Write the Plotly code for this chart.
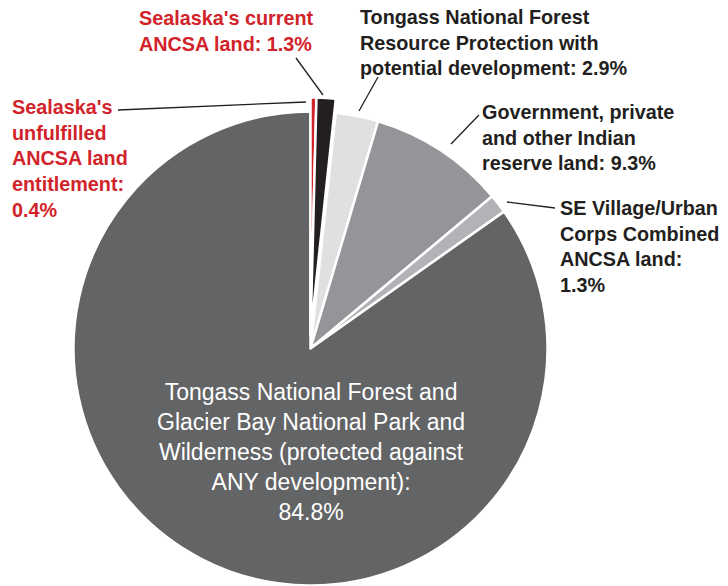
import plotly.graph_objects as go

W, H = 728, 586

# ---- data ----
categories = [
    "Sealaska's unfulfilled ANCSA land entitlement",
    "Sealaska's current ANCSA land",
    "Tongass National Forest Resource Protection with potential development",
    "Government, private and other Indian reserve land",
    "SE Village/Urban Corps Combined ANCSA land",
    "Tongass National Forest and Glacier Bay National Park and Wilderness (protected against ANY development)",
]
values = [0.4, 1.3, 2.9, 9.3, 1.3, 84.8]
slice_colors = ["#d2232a", "#231f20", "#dfe0e2", "#939598", "#b1b3b6", "#636466"]
pulled = [True, True, False, False, False, False]

label_text = [
    "Sealaska's<br>unfulfilled<br>ANCSA land<br>entitlement:<br>0.4%",
    "Sealaska's current<br>ANCSA land: 1.3%",
    "Tongass National Forest<br>Resource Protection with<br>potential development: 2.9%",
    "Government, private<br>and other Indian<br>reserve land: 9.3%",
    "SE Village/Urban<br>Corps Combined<br>ANCSA land:<br>1.3%",
    "Tongass National Forest and<br>Glacier Bay National Park and<br>Wilderness (protected against<br>ANY development):<br>84.8%",
]
label_colors = ["#d2232a", "#d2232a", "#231f20", "#231f20", "#231f20", "#ffffff"]


def px(x):
    return x / W


def py(y):
    return 1 - y / H


# pie geometry (pixels)
cx, cy, r = 310.5, 348.5, 237.0
shift = 14.0

dom_x = [px(cx - r), px(cx + r)]
dom_y = [py(cy + r), py(cy - r)]
dom_y2 = [py(cy + r - shift), py(cy - r - shift)]

base_colors = ["#ffffff" if p else c for p, c in zip(pulled, slice_colors)]
top_colors = [c if p else "rgba(0,0,0,0)" for p, c in zip(pulled, slice_colors)]
top_lw = [2.5 if p else 0 for p in pulled]

fig = go.Figure()
fig.add_trace(go.Pie(
    labels=categories, values=values, sort=False, direction="clockwise",
    rotation=0, domain=dict(x=dom_x, y=dom_y),
    marker=dict(colors=base_colors, line=dict(color="#ffffff", width=2.5)),
    textinfo="none", hoverinfo="label+value", showlegend=False,
))
fig.add_trace(go.Pie(
    labels=categories, values=values, sort=False, direction="clockwise",
    rotation=0, domain=dict(x=dom_x, y=dom_y2),
    marker=dict(colors=top_colors, line=dict(color="#ffffff", width=top_lw)),
    textinfo="none", hoverinfo="skip", showlegend=False,
))

# label positions (pixels): left x, center y of block
label_pos = [(10, 159), (137, 31), (358, 43), (480, 137), (558, 247), (311, 452)]
leaders = [
    ((118, 110), (306, 102)),
    ((296, 58), (323, 95)),
    ((378, 77), (359, 111)),
    ((479, 115), (451, 144)),
    ((507, 202), (555, 208)),
    None,
]

annotations = []
shapes = []
for i, txt in enumerate(label_text):
    lx, ly = label_pos[i]
    main = i == len(label_text) - 1
    annotations.append(dict(
        text=txt, x=px(lx), y=py(ly), xref="paper", yref="paper",
        xanchor="center" if main else "left", yanchor="middle",
        align="center" if main else "left", showarrow=False,
        font=dict(family="Arial, Liberation Sans, sans-serif",
                  size=23 if main else 19.8, color=label_colors[i],
                  weight=400 if main else 700),
    ))
    if leaders[i]:
        (x0, y0), (x1, y1) = leaders[i]
        shapes.append(dict(type="line", xref="paper", yref="paper",
                           x0=px(x0), y0=py(y0), x1=px(x1), y1=py(y1),
                           line=dict(color="#231f20", width=1.3)))

fig.update_layout(
    width=W, height=H, margin=dict(l=0, r=0, t=0, b=0),
    paper_bgcolor="#ffffff", plot_bgcolor="#ffffff",
    annotations=annotations, shapes=shapes, showlegend=False,
)

fig.write_html(
    "out.html",
    config={"displayModeBar": False},
    post_script="document.body.style.margin='0';document.body.style.overflow='hidden';",
)
